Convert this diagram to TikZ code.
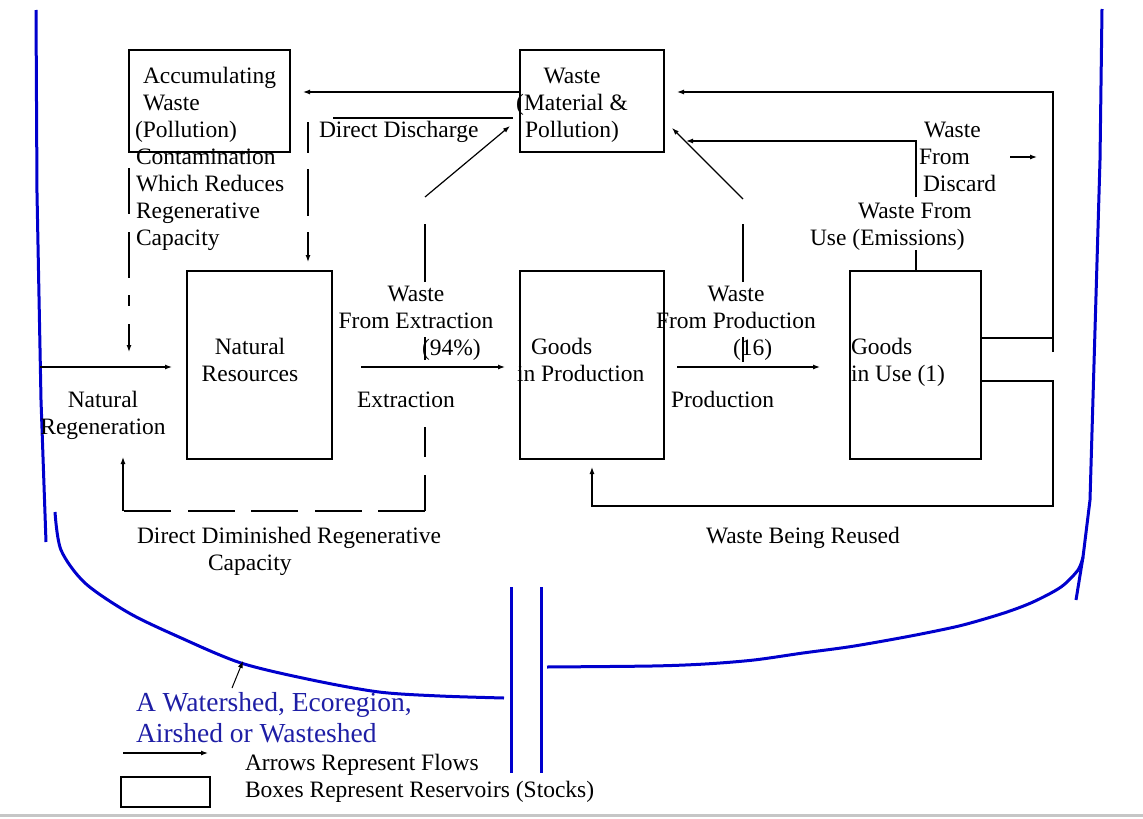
\documentclass[tikz,border=0pt]{standalone}
\usepackage{fontspec}
\setmainfont{Liberation Serif}
\usetikzlibrary{arrows.meta}
\definecolor{shedline}{RGB}{0,0,205}
\definecolor{shedtext}{RGB}{30,30,165}
\newcommand{\diafont}{\fontsize{23.5}{27}\selectfont}
\newcommand{\shedfont}{\fontsize{27.5}{31}\selectfont}
\begin{document}
\begin{tikzpicture}[x=1pt,y=-1pt,>={Latex[length=7pt,width=5pt]},line width=1.2pt,
  reservoir/.style={draw,line width=1.3pt,inner sep=0pt,outer sep=0pt},
  lbl/.style={font=\diafont,inner sep=0pt,outer sep=0pt},
  shed/.style={shedline,line width=3pt},
  longdash/.style={dash pattern=on 47pt off 16.5pt}]
\useasboundingbox (0,0) rectangle (1143,819);
% reservoirs
\node[reservoir,minimum width=161pt,minimum height=102pt] (accbox) at (209.5,101){};
\node[reservoir,minimum width=144pt,minimum height=102pt] (wastebox) at (592,101){};
\node[reservoir,minimum width=145pt,minimum height=188pt] (natres) at (259.5,365){};
\node[reservoir,minimum width=144pt,minimum height=188pt] (gprod) at (592,365){};
\node[reservoir,minimum width=131pt,minimum height=188pt] (guse) at (915.5,365){};

% watershed border
\draw[shed] (36,10)--(37,193)--(41,400)--(46,542);
\draw[shed] plot[smooth] coordinates {(55,512) (61,550) (85,583) (129,613) (179,637) (241,663) (312,680) (379,692) (440,696) (504,698)};
\draw[shed] (511,587)--(511,773);
\draw[shed] (541,587)--(541,773);
\draw[shed] plot[smooth] coordinates {(547,667) (652,666) (705,664) (754,660) (803,653) (848,647) (889,640) (926,633) (963,625) (1004,613) (1033,602) (1061,587) (1078,570) (1083,557)};
\draw[shed] (1102,9)--(1100,160)--(1090,500)--(1083,557)--(1076,600);

% flows
\coordinate (dd) at (303,92);
\draw[->] (wastebox.west |- dd)--(dd);
\coordinate (ddl) at (333,118); \coordinate (ddr) at (513,118);
\draw (ddl)--(ddr);
\coordinate (dsA) at (308,122); \coordinate (dsB) at (308,262);
\draw[->,dash pattern=on 47pt off 16pt,dash phase=16pt] (dsA)--(dsB);
\coordinate (ctA) at (129,168); \coordinate (ctB) at (129,352);
\draw[->,dash pattern=on 46pt off 18pt on 46pt off 17pt on 11pt off 18pt] (ctA)--(ctB);
\coordinate (rgA) at (40,367); \coordinate (rgB) at (172,367);
\draw[->] (rgA)--(rgB);
\coordinate (exA) at (361,367); \coordinate (exB) at (505,367);
\draw[->] (exA)--(exB);
\coordinate (wx1) at (425,360); \coordinate (wx2) at (425,337);
\coordinate (wx3) at (425,282); \coordinate (wx4) at (425,224);
\coordinate (wx5) at (425,197); \coordinate (wx6) at (510,126);
\draw (wx1)--(wx2);
\draw (wx3)--(wx4);
\draw[->] (wx5)--(wx6);
\coordinate (dr0) at (425,427); \coordinate (dr1) at (425,511);
\coordinate (dr2) at (123,511); \coordinate (dr3) at (123,457);
\draw[dash pattern=on 30pt off 18pt on 40pt] (dr0)--(dr1);
\draw[longdash] (dr1)--(dr2);
\draw[->] (dr2)--(dr3);
\coordinate (prA) at (677,367); \coordinate (prB) at (820,367);
\draw[->] (prA)--(prB);
\coordinate (wp1) at (743,362); \coordinate (wp2) at (743,337);
\coordinate (wp3) at (743,282); \coordinate (wp4) at (743,224);
\coordinate (wp5) at (743,199); \coordinate (wp6) at (672,128);
\draw (wp1)--(wp2);
\draw (wp3)--(wp4);
\draw[->] (wp5)--(wp6);
\coordinate (wu0) at (916,250); \coordinate (wu1) at (916,197);
\coordinate (wu) at (916,141); \coordinate (wutip) at (686,141);
\draw (guse.north -| wu0)--(wu0);
\draw[->] (wu1)--(wu)--(wutip);
\coordinate (dc) at (1053,338); \coordinate (dcb) at (1053,352);
\coordinate (dct) at (1053,92); \coordinate (dctip) at (677,92);
\draw (guse.east |- dc)--(dc);
\draw[->] (dcb)--(dct)--(dctip);
\coordinate (ru) at (1053,381); \coordinate (rub) at (1053,506);
\coordinate (rul) at (592,506); \coordinate (rutip) at (592,467);
\draw[->] (guse.east |- ru)--(ru)--(rub)--(rul)--(rutip);
\coordinate (ta0) at (1010,157); \coordinate (ta1) at (1037,157);
\draw[->] (ta0)--(ta1);

% labels (base = last line)
\node[lbl,anchor=base west,align=left] (acctxt) at (135,137) {\hspace*{8pt}Accumulating\\\hspace*{8pt}Waste\\(Pollution)};
\node[lbl,anchor=base west,align=left] (contam) at (136,245) {Contamination\\Which Reduces\\Regenerative\\Capacity};
\node[lbl,anchor=base,align=center] (wastetxt) at (572,137) {Waste\\(Material \&\\Pollution)};
\node[lbl,anchor=base west] (ddtxt) at (319,137) {Direct Discharge};
\node[lbl,anchor=base,align=center] (natrestxt) at (250,381) {Natural\\Resources};
\node[lbl,anchor=base,align=center] (regentxt) at (103,434) {Natural\\Regeneration};
\node[lbl,anchor=base,align=center] (wxtxt) at (416,328) {Waste\\From Extraction};
\node[lbl,anchor=base west] (pct) at (422,355) {(94\%)};
\node[lbl,anchor=base west] (extxt) at (357,407) {Extraction};
\node[lbl,anchor=base west,align=left] (gprodtxt) at (517,381) {\hspace*{14pt}Goods\\in Production};
\node[lbl,anchor=base,align=center] (wptxt) at (736,328) {Waste\\From Production};
\node[lbl,anchor=base west] (p16) at (733,355) {(16)};
\node[lbl,anchor=base west] (prodtxt) at (671,407) {Production};
\node[lbl,anchor=base west,align=left] (gusetxt) at (851,381) {Goods\\in Use (1)};
\node[lbl,anchor=base west,align=left] (discardtxt) at (919,191) {\hspace*{5pt}Waste\\From\\\hspace*{4pt}Discard};
\node[lbl,anchor=base west,align=left] (emistxt) at (810,245) {\hspace*{48pt}Waste From\\Use (Emissions)};
\node[lbl,anchor=base west] (reusetxt) at (706,543) {Waste Being Reused};
\node[lbl,anchor=base west,align=left] (dimtxt) at (137,570) {Direct Diminished Regenerative\\\hspace*{71pt}Capacity};
\node[lbl,anchor=base west,align=left,font=\shedfont,text=shedtext] (shedtxt) at (136,742) {A Watershed, Ecoregion,\\Airshed or Wasteshed};
\coordinate (sharr) at (232,688); \coordinate (shtip) at (243,661);
\draw[->,line width=1pt] (sharr)--(shtip);

% legend
\draw[->] (123,753)--(208,753);
\node[reservoir,minimum width=89pt,minimum height=30pt] (legstock) at (165.5,792){};
\node[lbl,anchor=base west] (legflowtxt) at (245,770) {Arrows Represent Flows};
\node[lbl,anchor=base west] (legstocktxt) at (245,797) {Boxes Represent Reservoirs (Stocks)};
\draw[gray!45,line width=3pt] (0,815)--(1143,815);
\end{tikzpicture}
\end{document}
